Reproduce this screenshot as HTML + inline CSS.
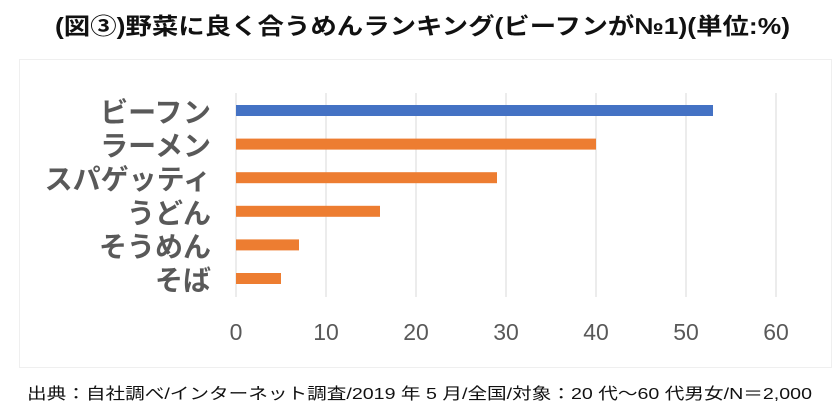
<!DOCTYPE html>
<html><head><meta charset="utf-8"><style>
body{margin:0;background:#fff;width:840px;height:418px;overflow:hidden;font-family:"Liberation Sans","Noto Sans CJK JP",sans-serif}
</style></head><body>
<svg width="840" height="418" style="position:absolute;left:0;top:0">
<rect x="19.5" y="59.5" width="812" height="308" fill="none" stroke="#efefef"/>
<text x="55" y="34" textLength="735" lengthAdjust="spacingAndGlyphs" font-size="23" font-weight="bold" fill="#111" font-family="Liberation Sans, Noto Sans CJK JP, sans-serif">(図③)野菜に良く合うめんランキング(ビーフンが№1)(単位:%)</text>
<g id="grid"></g><g id="bars"></g><g id="labels"></g>
<text x="27" y="399" textLength="785" lengthAdjust="spacingAndGlyphs" font-size="16" fill="#111" font-family="Liberation Sans, Noto Sans CJK JP, sans-serif">出典：自社調べ/インターネット調査/2019 年 5 月/全国/対象：20 代～60 代男女/N＝2,000</text>
</svg>
<script>
const categories=["ビーフン","ラーメン","スパゲッティ","うどん","そうめん","そば"];
const values=[53,40,29,16,7,5];
const ticks=[0,10,20,30,40,50,60];
const ns="http://www.w3.org/2000/svg";
const x=v=>236+v*9;
const yTop=i=>105+i*33.6;
function mk(t,a,p){const e=document.createElementNS(ns,t);for(const k in a)e.setAttribute(k,a[k]);p.appendChild(e);return e;}
const g=document.getElementById('grid'),b=document.getElementById('bars'),l=document.getElementById('labels');
ticks.forEach(t=>{
 const ln=mk('line',{x1:x(t),x2:x(t),y1:93,y2:297,stroke:'#d9d9d9','stroke-width':1},g);
 
 
 const tx=mk('text',{x:x(t),y:340,'text-anchor':'middle','font-size':23,fill:'#595959'},g);
 tx.textContent=t;
 
 
});
categories.forEach((c,i)=>{
 const r=mk('rect',{x:x(0),y:yTop(i),width:x(values[i])-x(0),height:11,fill:i===0?'#4472c4':'#ed7d31'},b);
 
 
 const tx=mk('text',{x:211,y:yTop(i)+17,'text-anchor':'end','font-size':28,'font-weight':'bold',fill:'#595959','font-family':'Liberation Sans, Noto Sans CJK JP, sans-serif'},l);
 tx.textContent=c;
 
 
});
</script>
</body></html>
